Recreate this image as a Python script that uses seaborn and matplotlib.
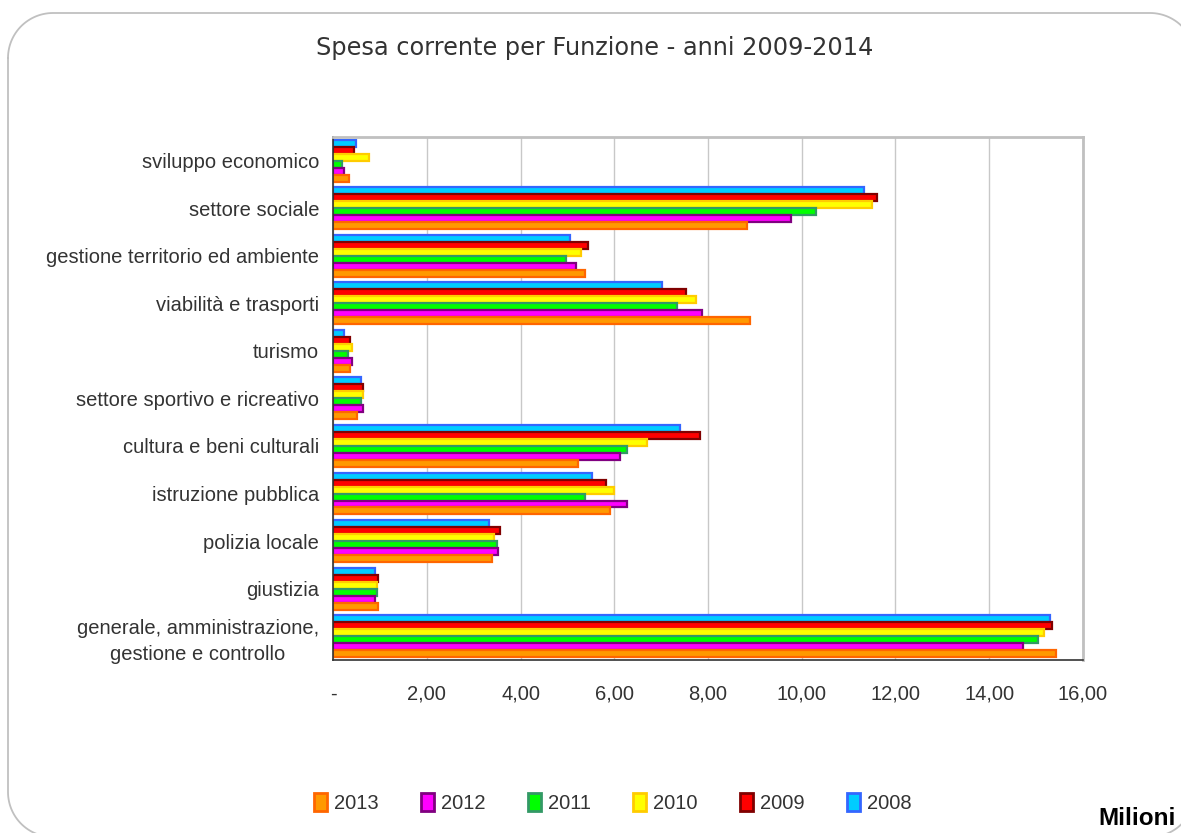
import numpy as np
import pandas as pd
import matplotlib
matplotlib.use('Agg')
import matplotlib.pyplot as plt
import seaborn as sns
from matplotlib.patches import Patch

# --- data (millions of euro) ---
funzioni = ['sviluppo economico', 'settore sociale', 'gestione territorio ed ambiente',
            'viabilità e trasporti', 'turismo', 'settore sportivo e ricreativo',
            'cultura e beni culturali', 'istruzione pubblica', 'polizia locale',
            'giustizia', 'generale, amministrazione,\ngestione e controllo']
anni = ['2008', '2009', '2010', '2011', '2012', '2013']

v2008 = [0.49, 11.32, 5.06, 7.02, 0.23, 0.60, 7.40, 5.53, 3.32, 0.89, 15.30]
v2009 = [0.45, 11.60, 5.43, 7.53, 0.36, 0.64, 7.83, 5.83, 3.57, 0.96, 15.34]
v2010 = [0.77, 11.50, 5.28, 7.74, 0.40, 0.64, 6.70, 6.00, 3.43, 0.94, 15.17]
v2011 = [0.20, 10.30, 4.96, 7.34, 0.32, 0.60, 6.28, 5.38, 3.49, 0.94, 15.04]
v2012 = [0.23, 9.77, 5.19, 7.87, 0.40, 0.64, 6.13, 6.28, 3.51, 0.89, 14.72]
v2013 = [0.35, 8.83, 5.38, 8.89, 0.36, 0.51, 5.23, 5.91, 3.40, 0.96, 15.43]

fill = {'2008': '#00CCFF', '2009': '#FF0000', '2010': '#FFFF00',
        '2011': '#00FF00', '2012': '#FF00FF', '2013': '#FF9900'}
edge = {'2008': '#3366FF', '2009': '#800000', '2010': '#FFCC00',
        '2011': '#339966', '2012': '#800080', '2013': '#FF6600'}

values = [v2008, v2009, v2010, v2011, v2012, v2013]
df = pd.DataFrame({
    'funzione': funzioni * len(anni),
    'anno': np.repeat(anni, len(funzioni)),
    'valore': np.concatenate(values),
})

sns.set_style('white')
plt.rcParams['font.family'] = ['Liberation Sans', 'DejaVu Sans']

fig = plt.figure(figsize=(11.81, 8.33), dpi=100)

# background layer in pixel units (origin top-left), rounded frame drawn as arcs
bg = fig.add_axes([0, 0, 1, 1], zorder=-1)
bg.set_xlim(0, 1181)
bg.set_ylim(833, 0)
bg.axis('off')
x0, x1, y0, y1, r = 8, 1195, 13, 837, 45
t = np.linspace(0, np.pi / 2, 30)
fx = np.concatenate([x0 + r - r * np.cos(t), x1 - r + r * np.sin(t),
                     x1 - r + r * np.cos(t), x0 + r - r * np.sin(t), [x0]])
fy = np.concatenate([y0 + r - r * np.sin(t), y0 + r - r * np.cos(t),
                     y1 - r + r * np.sin(t), y1 - r + r * np.cos(t), [y0 + r]])
bg.plot(fx, fy, color='#c0c0c0', linewidth=1.3)

ax = fig.add_axes([0.282, 0.2077, 0.635, 0.628])

sns.barplot(data=df, y='funzione', x='valore', hue='anno', hue_order=anni,
            order=funzioni, orient='h', palette=fill, width=0.88,
            legend=False, ax=ax, errorbar=None, saturation=1)

for cont, a in zip(ax.containers, anni):
    for bar in cont:
        bar.set_edgecolor(edge[a])
        bar.set_linewidth(1.6)

ax.set_xlim(0, 16)
ax.set_ylim(10.5, -0.5)
ax.set_xticks(np.arange(0, 17, 2))
ax.set_xticklabels(['-'] + [f'{v:.2f}'.replace('.', ',') for v in np.arange(2, 17, 2)],
                   fontsize=14.5, color='#333333')
ax.set_yticks(range(len(funzioni)))
ax.set_yticklabels(funzioni, fontsize=14.5, color='#333333',
                   multialignment='center', linespacing=1.45)
ax.tick_params(axis='y', length=0, pad=10)
ax.tick_params(axis='x', length=6, color='#333333', pad=12, direction='out')
ax.set_yticks(np.arange(-0.5, 11, 1), minor=True)
ax.tick_params(axis='y', which='minor', length=7, color='#333333', direction='out')
ax.set_xlabel('')
ax.set_ylabel('')

ax.grid(axis='x', color='#c8c8c8', linewidth=1)
ax.set_axisbelow(True)
for s in ['top', 'right']:
    ax.spines[s].set_color('#c0c0c0')
    ax.spines[s].set_linewidth(2)
for s in ['left', 'bottom']:
    ax.spines[s].set_color('#333333')
    ax.spines[s].set_linewidth(1.2)

fig.text(0.5035, 0.942, 'Spesa corrente per Funzione - anni 2009-2014',
         ha='center', va='center', fontsize=17.3, color='#333333',
         family=['DejaVu Sans'])

legend_order = ['2013', '2012', '2011', '2010', '2009', '2008']
handles = [Patch(facecolor=fill[a], edgecolor=edge[a], linewidth=2) for a in legend_order]
fig.legend(handles, legend_order, loc='center', bbox_to_anchor=(0.519, 0.036),
           ncol=6, frameon=False, fontsize=14.5, handlelength=0.65, handleheight=1.0,
           handletextpad=0.35, columnspacing=2.1, labelcolor='#333333')

fig.text(1176 / 1181, 0.018, 'Milioni', ha='right', va='center', fontsize=17.5,
         fontweight='bold', color='black')

fig.savefig('out.png', dpi=100)
